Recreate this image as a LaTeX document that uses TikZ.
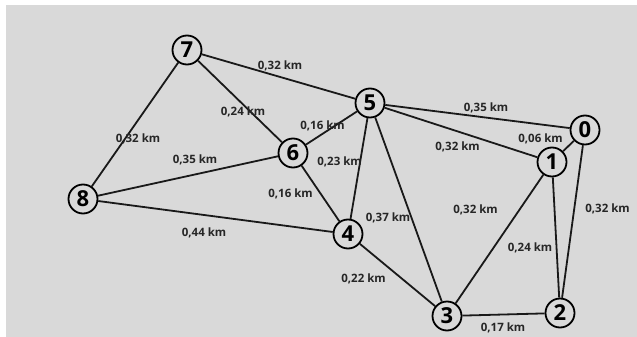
\documentclass[tikz,border=0pt]{standalone}
\usepackage{fontspec}
\setmainfont{Open Sans}
\usepackage{tikz}
\definecolor{bggray}{HTML}{D9D9D9}
\tikzstyle{station} = [circle, draw=black, line width=1.8pt, fill=bggray, minimum size=29pt, inner sep=0pt, font=\fontsize{22}{22}\selectfont\bfseries]
\tikzstyle{edge} = [line width=1.8pt, draw=black!90]
\tikzstyle{dist} = [inner sep=0pt, font=\fontsize{11.5}{13}\selectfont\bfseries, text=black!85]

\begin{document}
\begin{tikzpicture}[x=1pt, y=-1pt]
\useasboundingbox (0,0) rectangle (637,337);
\fill [bggray] (6,5) rectangle (637,337);
% stations
\node (n7) [station] at (187,50) {7};
\node (n5) [station] at (370,103) {5};
\node (n0) [station] at (585,130) {0};
\node (n1) [station] at (552,162) {1};
\node (n6) [station] at (293,153) {6};
\node (n8) [station] at (83,199) {8};
\node (n4) [station] at (348,234) {4};
\node (n3) [station] at (447,316) {3};
\node (n2) [station] at (560,313) {2};
% connections
\draw [edge] (n7) -- node[dist, xshift=1.5, yshift=11]{0,32 km} (n5);
\draw [edge] (n7) -- node[dist, xshift=3, yshift=-10.5]{0,24 km} (n6);
\draw [edge] (n7) -- node[dist, xshift=3, yshift=-14]{0,32 km} (n8);
\draw [edge] (n8) -- node[dist, xshift=7, yshift=16.5]{0,35 km} (n6);
\draw [edge] (n8) -- node[dist, xshift=-11.5, yshift=-16.5]{0,44 km} (n4);
\draw [edge] (n6) -- node[dist, xshift=-9, yshift=2]{0,16 km} (n5);
\draw [edge] (n6) -- node[dist, xshift=-30, yshift=-0.5]{0,16 km} (n4);
\draw [edge] (n5) -- node[dist, xshift=-19.5, yshift=6.5]{0,23 km} (n4);
\draw [edge] (n5) -- node[dist, xshift=-20.5, yshift=-8.5]{0,37 km} (n3);
\draw [edge] (n5) -- node[dist, xshift=8.5, yshift=8.5]{0,35 km} (n0);
\draw [edge] (n5) -- node[dist, xshift=-3.5, yshift=-14.5]{0,32 km} (n1);
\draw [edge] (n1) -- node[dist, xshift=-28, yshift=7]{0,06 km} (n0);
\draw [edge] (n1) -- node[dist, xshift=-24, yshift=29]{0,32 km} (n3);
\draw [edge] (n1) -- node[dist, xshift=-26, yshift=-10.5]{0,24 km} (n2);
\draw [edge] (n0) -- node[dist, xshift=35, yshift=12.5]{0,32 km} (n2);
\draw [edge] (n4) -- node[dist, xshift=-34, yshift=-4]{0,22 km} (n3);
\draw [edge] (n3) -- node[dist, xshift=-0.5, yshift=-13]{0,17 km} (n2);
\end{tikzpicture}
\end{document}
